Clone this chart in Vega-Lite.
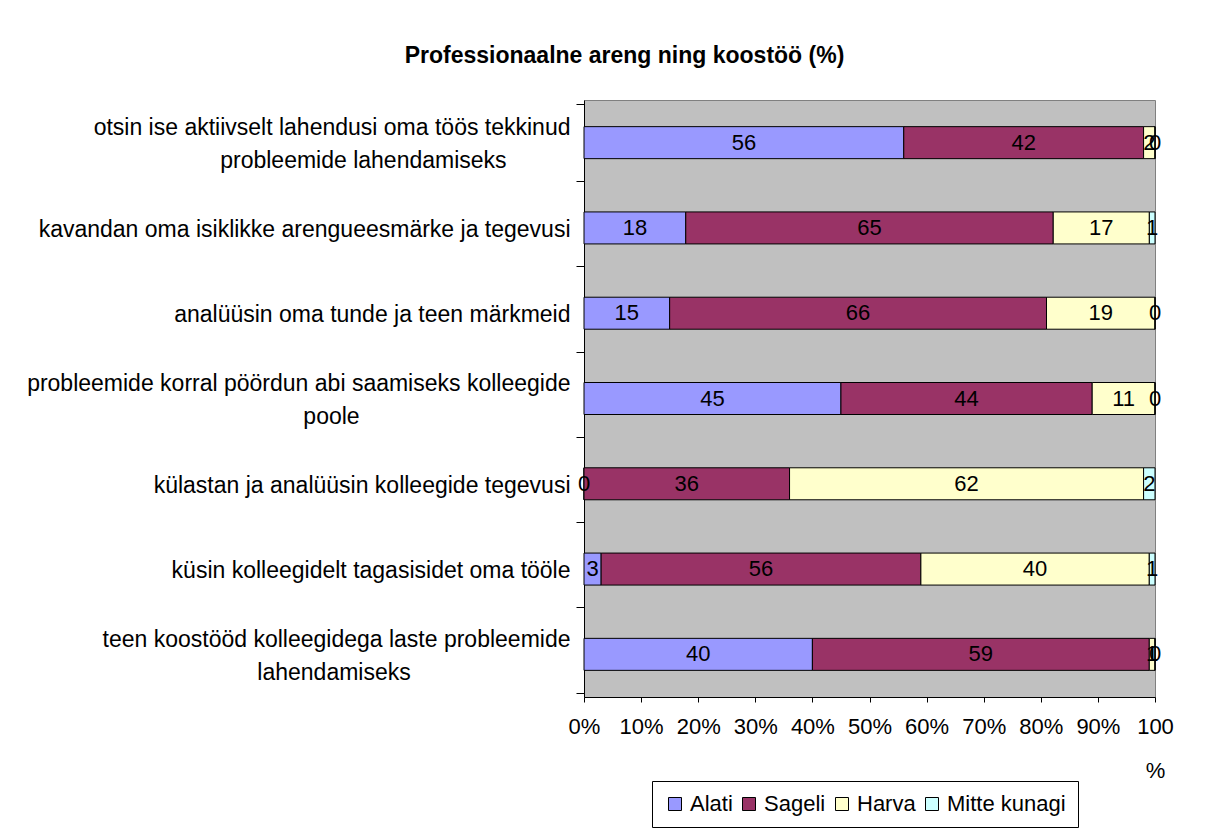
{
  "$schema": "https://vega.github.io/schema/vega-lite/v6.json",
  "width": 571,
  "height": 597,
  "autosize": "none",
  "padding": {"left": 584, "top": 100, "right": 60, "bottom": 132},
  "background": "white",
  "config": {
    "font": "Liberation Sans",
    "view": {"fill": "#C0C0C0", "stroke": "#808080"}
  },
  "title": {
    "text": "Professionaalne areng ning koostöö (%)",
    "fontSize": 23,
    "fontWeight": "bold",
    "font": "Liberation Sans",
    "color": "black",
    "anchor": "middle",
    "dx": -245,
    "offset": 21
  },
  "data": {
    "values": [
      {"q": "otsin ise aktiivselt lahendusi oma töös tekkinud|probleemide lahendamiseks\u00a0\u00a0\u00a0\u00a0\u00a0\u00a0\u00a0\u00a0\u00a0\u00a0\u200b", "r": "Alati", "k": 1, "v": 56},
      {"q": "otsin ise aktiivselt lahendusi oma töös tekkinud|probleemide lahendamiseks\u00a0\u00a0\u00a0\u00a0\u00a0\u00a0\u00a0\u00a0\u00a0\u00a0\u200b", "r": "Sageli", "k": 2, "v": 42},
      {"q": "otsin ise aktiivselt lahendusi oma töös tekkinud|probleemide lahendamiseks\u00a0\u00a0\u00a0\u00a0\u00a0\u00a0\u00a0\u00a0\u00a0\u00a0\u200b", "r": "Harva", "k": 3, "v": 2},
      {"q": "otsin ise aktiivselt lahendusi oma töös tekkinud|probleemide lahendamiseks\u00a0\u00a0\u00a0\u00a0\u00a0\u00a0\u00a0\u00a0\u00a0\u00a0\u200b", "r": "Mitte kunagi", "k": 4, "v": 0},
      {"q": "kavandan oma isiklikke arengueesmärke ja tegevusi", "r": "Alati", "k": 1, "v": 18},
      {"q": "kavandan oma isiklikke arengueesmärke ja tegevusi", "r": "Sageli", "k": 2, "v": 65},
      {"q": "kavandan oma isiklikke arengueesmärke ja tegevusi", "r": "Harva", "k": 3, "v": 17},
      {"q": "kavandan oma isiklikke arengueesmärke ja tegevusi", "r": "Mitte kunagi", "k": 4, "v": 1},
      {"q": "analüüsin oma tunde ja teen märkmeid", "r": "Alati", "k": 1, "v": 15},
      {"q": "analüüsin oma tunde ja teen märkmeid", "r": "Sageli", "k": 2, "v": 66},
      {"q": "analüüsin oma tunde ja teen märkmeid", "r": "Harva", "k": 3, "v": 19},
      {"q": "analüüsin oma tunde ja teen märkmeid", "r": "Mitte kunagi", "k": 4, "v": 0},
      {"q": "probleemide korral pöördun abi saamiseks kolleegide|poole\u00a0\u00a0\u00a0\u00a0\u00a0\u00a0\u00a0\u00a0\u00a0\u00a0\u00a0\u00a0\u00a0\u00a0\u00a0\u00a0\u00a0\u00a0\u00a0\u00a0\u00a0\u00a0\u00a0\u00a0\u00a0\u00a0\u00a0\u00a0\u00a0\u00a0\u00a0\u00a0\u00a0\u200b", "r": "Alati", "k": 1, "v": 45},
      {"q": "probleemide korral pöördun abi saamiseks kolleegide|poole\u00a0\u00a0\u00a0\u00a0\u00a0\u00a0\u00a0\u00a0\u00a0\u00a0\u00a0\u00a0\u00a0\u00a0\u00a0\u00a0\u00a0\u00a0\u00a0\u00a0\u00a0\u00a0\u00a0\u00a0\u00a0\u00a0\u00a0\u00a0\u00a0\u00a0\u00a0\u00a0\u00a0\u200b", "r": "Sageli", "k": 2, "v": 44},
      {"q": "probleemide korral pöördun abi saamiseks kolleegide|poole\u00a0\u00a0\u00a0\u00a0\u00a0\u00a0\u00a0\u00a0\u00a0\u00a0\u00a0\u00a0\u00a0\u00a0\u00a0\u00a0\u00a0\u00a0\u00a0\u00a0\u00a0\u00a0\u00a0\u00a0\u00a0\u00a0\u00a0\u00a0\u00a0\u00a0\u00a0\u00a0\u00a0\u200b", "r": "Harva", "k": 3, "v": 11},
      {"q": "probleemide korral pöördun abi saamiseks kolleegide|poole\u00a0\u00a0\u00a0\u00a0\u00a0\u00a0\u00a0\u00a0\u00a0\u00a0\u00a0\u00a0\u00a0\u00a0\u00a0\u00a0\u00a0\u00a0\u00a0\u00a0\u00a0\u00a0\u00a0\u00a0\u00a0\u00a0\u00a0\u00a0\u00a0\u00a0\u00a0\u00a0\u00a0\u200b", "r": "Mitte kunagi", "k": 4, "v": 0},
      {"q": "külastan ja analüüsin kolleegide tegevusi", "r": "Alati", "k": 1, "v": 0},
      {"q": "külastan ja analüüsin kolleegide tegevusi", "r": "Sageli", "k": 2, "v": 36},
      {"q": "külastan ja analüüsin kolleegide tegevusi", "r": "Harva", "k": 3, "v": 62},
      {"q": "külastan ja analüüsin kolleegide tegevusi", "r": "Mitte kunagi", "k": 4, "v": 2},
      {"q": "küsin kolleegidelt tagasisidet oma tööle", "r": "Alati", "k": 1, "v": 3},
      {"q": "küsin kolleegidelt tagasisidet oma tööle", "r": "Sageli", "k": 2, "v": 56},
      {"q": "küsin kolleegidelt tagasisidet oma tööle", "r": "Harva", "k": 3, "v": 40},
      {"q": "küsin kolleegidelt tagasisidet oma tööle", "r": "Mitte kunagi", "k": 4, "v": 1},
      {"q": "teen koostööd kolleegidega laste probleemide|lahendamiseks\u00a0\u00a0\u00a0\u00a0\u00a0\u00a0\u00a0\u00a0\u00a0\u00a0\u00a0\u00a0\u00a0\u00a0\u00a0\u00a0\u00a0\u00a0\u00a0\u00a0\u00a0\u00a0\u00a0\u00a0\u00a0\u200b", "r": "Alati", "k": 1, "v": 40},
      {"q": "teen koostööd kolleegidega laste probleemide|lahendamiseks\u00a0\u00a0\u00a0\u00a0\u00a0\u00a0\u00a0\u00a0\u00a0\u00a0\u00a0\u00a0\u00a0\u00a0\u00a0\u00a0\u00a0\u00a0\u00a0\u00a0\u00a0\u00a0\u00a0\u00a0\u00a0\u200b", "r": "Sageli", "k": 2, "v": 59},
      {"q": "teen koostööd kolleegidega laste probleemide|lahendamiseks\u00a0\u00a0\u00a0\u00a0\u00a0\u00a0\u00a0\u00a0\u00a0\u00a0\u00a0\u00a0\u00a0\u00a0\u00a0\u00a0\u00a0\u00a0\u00a0\u00a0\u00a0\u00a0\u00a0\u00a0\u00a0\u200b", "r": "Harva", "k": 3, "v": 1},
      {"q": "teen koostööd kolleegidega laste probleemide|lahendamiseks\u00a0\u00a0\u00a0\u00a0\u00a0\u00a0\u00a0\u00a0\u00a0\u00a0\u00a0\u00a0\u00a0\u00a0\u00a0\u00a0\u00a0\u00a0\u00a0\u00a0\u00a0\u00a0\u00a0\u00a0\u00a0\u200b", "r": "Mitte kunagi", "k": 4, "v": 0}
    ]
  },
  "encoding": {
    "y": {
      "field": "q",
      "type": "nominal",
      "sort": null,
      "axis": {
        "title": null,
        "labelExpr": "indexof(datum.label, '|') >= 0 ? [split(datum.label, '|')[0], '\u200b', split(datum.label, '|')[1]] : ['\u200b', datum.label]",
        "labelOffset": -15,
        "tickBand": "extent",
        "tickSize": 8,
        "labelPadding": 6,
        "labelFontSize": 23,
        "labelLineHeight": 16.5,
        "labelColor": "black",
        "labelLimit": 0,
        "domainColor": "black",
        "tickColor": "black",
        "grid": false
      }
    }
  },
  "layer": [
    {
      "mark": {"type": "bar", "stroke": "black", "strokeWidth": 1, "size": 32},
      "encoding": {
        "x": {
          "field": "v",
          "type": "quantitative",
          "stack": "normalize",
          "scale": {"domain": [0, 1]},
          "axis": {
            "title": null,
            "values": [0, 0.1, 0.2, 0.3, 0.4, 0.5, 0.6, 0.7, 0.8, 0.9, 1],
            "labelExpr": "datum.value == 1 ? ['100', '%'] : format(datum.value, '.0%')",
            "tickSize": 5,
            "labelPadding": 14,
            "labelFontSize": 22,
            "labelLineHeight": 44,
            "labelColor": "black",
            "labelFlush": false,
            "labelOverlap": false,
            "domainColor": "black",
            "tickColor": "black",
            "grid": false
          }
        },
        "color": {
          "field": "r",
          "type": "nominal",
          "sort": ["Alati", "Sageli", "Harva", "Mitte kunagi"],
          "scale": {
            "domain": ["Alati", "Sageli", "Harva", "Mitte kunagi"],
            "range": ["#9999FF", "#993366", "#FFFFCC", "#CCFFFF"]
          },
          "legend": {
            "orient": "none",
            "legendX": 68,
            "legendY": 681,
            "direction": "horizontal",
            "title": null,
            "strokeColor": "black",
            "fillColor": "white",
            "padding": 12,
            "symbolType": "square",
            "symbolSize": 169,
            "symbolStrokeColor": "black",
            "symbolStrokeWidth": 1,
            "symbolOpacity": 1,
            "labelFontSize": 22,
            "labelColor": "black",
            "columnPadding": 5
          }
        },
        "order": {"field": "k", "type": "quantitative"}
      }
    },
    {
      "mark": {"type": "text", "fontSize": 22, "color": "black"},
      "encoding": {
        "x": {"field": "v", "type": "quantitative", "stack": "normalize", "bandPosition": 0.5},
        "detail": {"field": "r", "type": "nominal"},
        "order": {"field": "k", "type": "quantitative"},
        "text": {"field": "v", "type": "quantitative"}
      }
    }
  ]
}
